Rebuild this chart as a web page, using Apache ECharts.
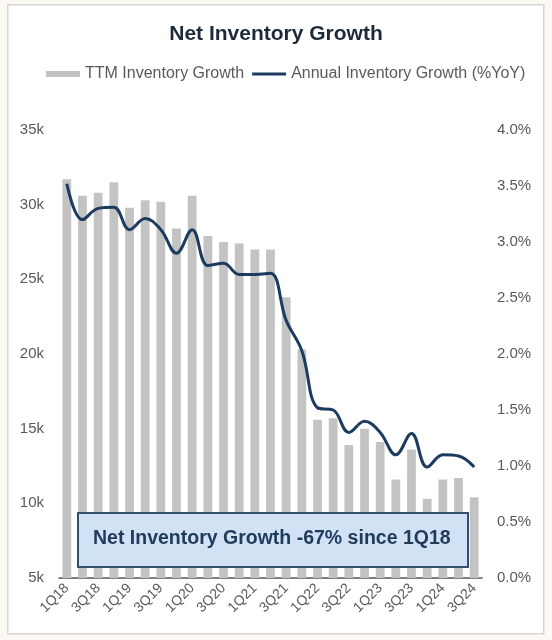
<!DOCTYPE html>
<html>
<head>
<meta charset="utf-8">
<script src="https://cdn.jsdelivr.net/npm/echarts@6/dist/echarts.min.js"></script>
<style>
  html, body { margin: 0; padding: 0; background: #fcf9f4; }
  #chart { width: 552px; height: 640px; }
</style>
</head>
<body>
<div id="chart"></div>
<script>
// Quarters from 1Q18 through 3Q24
const quarters = [
  '1Q18','2Q18','3Q18','4Q18',
  '1Q19','2Q19','3Q19','4Q19',
  '1Q20','2Q20','3Q20','4Q20',
  '1Q21','2Q21','3Q21','4Q21',
  '1Q22','2Q22','3Q22','4Q22',
  '1Q23','2Q23','3Q23','4Q23',
  '1Q24','2Q24','3Q24'
];

// Trailing-twelve-month inventory growth (units)
const ttmGrowth = [
  31700, 30600, 30800, 31500,
  29800, 30300, 30200, 28400,
  30600, 27900, 27500, 27400,
  27000, 27000, 23800, 20300,
  15600, 15700, 13900, 15000,
  14100, 11600, 13600, 10300,
  11600, 11700, 10400
];

// Annual inventory growth, % year over year
const annualGrowthPct = [
  3.52, 3.20, 3.30, 3.31,
  3.11, 3.21, 3.11, 2.90,
  3.11, 2.79, 2.81, 2.71,
  2.71, 2.72, 2.30, 2.03,
  1.52, 1.50, 1.30, 1.40,
  1.30, 1.10, 1.29, 0.99,
  1.10, 1.09, 0.99
];

const seriesNames = ['TTM Inventory Growth', 'Annual Inventory Growth (%YoY)'];
const titleText = 'Net Inventory Growth';
const calloutText = 'Net Inventory Growth -67% since 1Q18';

const FONT = '"Liberation Sans", Arial, sans-serif';
const BAR_COLOR = '#c3c3c3';
const LINE_COLOR = '#1d3b5f';
const LABEL_COLOR = '#595959';

const chart = echarts.init(document.getElementById('chart'), null, { renderer: 'canvas' });

chart.setOption({
  animation: false,
  backgroundColor: 'transparent',
  textStyle: { fontFamily: FONT },
  title: {
    text: titleText,
    left: 'center',
    top: 19,
    textStyle: { fontFamily: FONT, fontSize: 21, fontWeight: 'bold', color: '#1f2a38' }
  },
  legend: {
    left: 41,
    top: 61,
    itemGap: 8,
    itemWidth: 34,
    itemHeight: 6,
    textStyle: { fontFamily: FONT, fontSize: 16, color: LABEL_COLOR },
    data: [
      { name: seriesNames[0], icon: 'rect' },
      { name: seriesNames[1], icon: 'path://M0,0 L34,0 L34,3 L0,3 Z' }
    ]
  },
  grid: { left: 59, right: 70, top: 130, bottom: 62, containLabel: false },
  xAxis: {
    type: 'category',
    data: quarters,
    axisLine: { show: true, lineStyle: { color: '#555555', width: 1.5 } },
    axisTick: { show: false },
    axisLabel: {
      interval: 1,
      rotate: 45,
      margin: 8,
      fontFamily: FONT,
      fontSize: 14,
      color: LABEL_COLOR
    },
    splitLine: { show: false }
  },
  yAxis: [
    {
      type: 'value',
      min: 5000,
      max: 35000,
      interval: 5000,
      axisLine: { show: false },
      axisTick: { show: false },
      splitLine: { show: false },
      axisLabel: {
        margin: 15,
        fontFamily: FONT,
        fontSize: 15,
        color: LABEL_COLOR,
        formatter: v => (v / 1000) + 'k'
      }
    },
    {
      type: 'value',
      min: 0,
      max: 4,
      interval: 0.5,
      axisLine: { show: false },
      axisTick: { show: false },
      splitLine: { show: false },
      axisLabel: {
        margin: 15,
        fontFamily: FONT,
        fontSize: 15,
        color: LABEL_COLOR,
        formatter: v => v.toFixed(1) + '%'
      }
    }
  ],
  series: [
    {
      name: seriesNames[0],
      type: 'bar',
      yAxisIndex: 0,
      data: ttmGrowth,
      barWidth: '56%',
      itemStyle: { color: BAR_COLOR },
      z: 2
    },
    {
      name: seriesNames[1],
      type: 'line',
      yAxisIndex: 1,
      data: annualGrowthPct,
      smooth: 0.4,
      showSymbol: false,
      symbol: 'none',
      lineStyle: { color: LINE_COLOR, width: 3 },
      itemStyle: { color: LINE_COLOR },
      z: 3
    }
  ],
  graphic: [
    {
      type: 'rect',
      left: 7,
      top: 4,
      z: -10,
      silent: true,
      shape: { width: 536, height: 629 },
      style: { fill: '#ffffff', stroke: '#d6d6d6', lineWidth: 1.5 }
    },
    {
      type: 'rect',
      left: 77,
      top: 512,
      zlevel: 1,
      z: 100,
      silent: true,
      shape: { width: 390, height: 54 },
      style: { fill: '#d0e2f3', stroke: '#34506e', lineWidth: 2 }
    },
    {
      type: 'text',
      left: 93,
      top: 529,
      zlevel: 1,
      z: 101,
      silent: true,
      style: {
        text: calloutText,
        fontFamily: FONT,
        fontSize: 19.5,
        fontWeight: 'bold',
        fill: '#213b5c'
      }
    }
  ]
});
</script>
</body>
</html>
